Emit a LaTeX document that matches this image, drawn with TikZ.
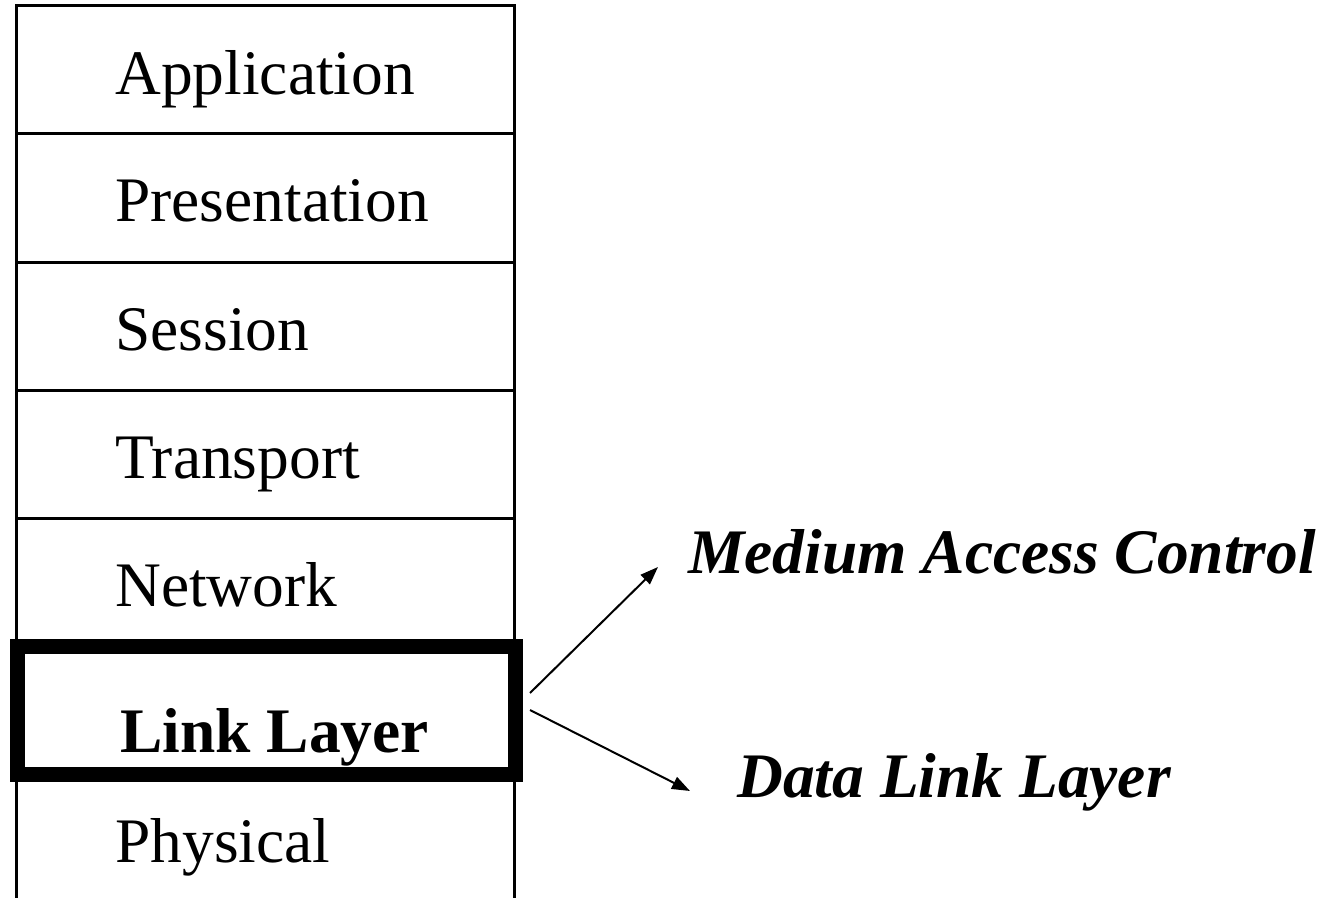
\documentclass[tikz,border=0pt]{standalone}
\usepackage{fontspec}
\setmainfont{Liberation Serif}
\usepackage{tikz}
\usetikzlibrary{arrows.meta}

\tikzset{
  layer/.style={anchor=base west, inner sep=0pt, font=\fontsize{36.1}{43}\selectfont},
  sublayer/.style={layer, font=\fontsize{36.1}{43}\selectfont\bfseries\itshape},
  stackline/.style={line width=0.06cm},
  pointer/.style={line width=0.04cm, -{Triangle[length=0.36cm,width=0.26cm]}}
}

\begin{document}
\begin{tikzpicture}
                \useasboundingbox (0, 0) rectangle (26.7, -17.96);

                \node[layer] (app) at (2.3, -1.9) {Application};
                \node[layer] (pres) at (2.3, -4.44) {Presentation};
                \node[layer] (sess) at (2.3, -7.0) {Session};
                \node[layer] (trans) at (2.3, -9.56) {Transport};
                \node[layer] (net) at (2.3, -12.12) {Network};
                \node[layer, font=\fontsize{36.1}{43}\selectfont\bfseries] (link) at (2.4, -15.04) {Link Layer};
                \node[layer] (phys) at (2.3, -17.24) {Physical};

                \node[sublayer] (mac) at (13.76, -11.46) {Medium Access Control};
                \node[sublayer] (dll) at (14.74, -15.94) {Data Link Layer};

                \coordinate (linkup) at (10.6, -13.86);
                \coordinate (linkdown) at (10.6, -14.2);
                \coordinate (mactip) at ([shift={(-0.6, 0.12)}]mac.base west);
                \coordinate (dlltip) at ([shift={(-0.94, 0.12)}]dll.base west);

                \draw[stackline]
                (0.32, -18.1) -- (0.32, -0.12) -- (10.28, -0.12) -- (10.28, -18.1)
                (0.32, -2.68) -- (10.28, -2.68)
                (0.32, -5.24) -- (10.28, -5.24)
                (0.32, -7.80) -- (10.28, -7.80)
                (0.32, -10.36) -- (10.28, -10.36);

                \draw[line width=0.3cm] (0.35, -12.93) rectangle (10.31, -15.48);

                \draw[pointer] (linkup) -- (mactip);
                \draw[pointer] (linkdown) -- (dlltip);
            \end{tikzpicture}
\end{document}
